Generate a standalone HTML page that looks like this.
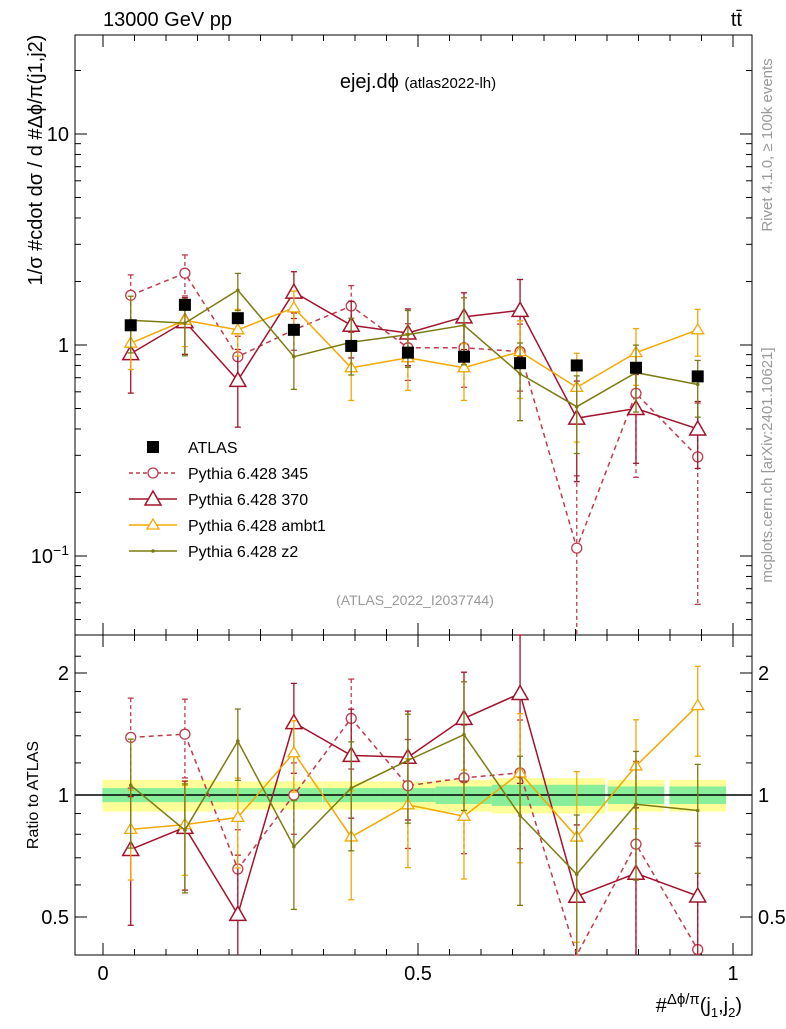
<!DOCTYPE html>
<html><head><meta charset="utf-8"><style>
body{margin:0;background:#fff;width:786px;height:1024px;overflow:hidden}
svg{font-family:"Liberation Sans",sans-serif}
</style></head><body>
<svg id="chart" width="786" height="1024" viewBox="0 0 786 1024"></svg>
<script>
const xcenters=[0.044,0.13,0.214,0.303,0.394,0.484,0.573,0.662,0.752,0.846,0.944];
const atlas=[1.24,1.55,1.34,1.18,0.99,0.92,0.88,0.82,0.80,0.78,0.71];
const s345=[1.72,2.19,0.88,1.18,1.53,0.97,0.97,0.93,0.109,0.59,0.295];
const s370=[0.91,1.29,0.68,1.78,1.24,1.14,1.36,1.46,0.45,0.50,0.40];
const sambt1=[1.02,1.31,1.18,1.50,0.78,0.87,0.78,0.93,0.63,0.92,1.18];
const sz2=[1.31,1.27,1.82,0.88,1.03,1.12,1.24,0.73,0.51,0.74,0.65];
const e345=[0.25,0.22,0.25,0.2,0.25,0.3,0.35,0.35,1.2,0.6,0.8];
const e370=[0.35,0.3,0.4,0.25,0.3,0.3,0.3,0.4,0.5,0.45,0.35];
const eambt1=[0.25,0.25,0.25,0.2,0.3,0.3,0.3,0.4,0.45,0.3,0.25];
const ez2=[0.3,0.3,0.2,0.3,0.3,0.3,0.35,0.4,0.4,0.35,0.3];
const bandInner=[0.04,0.04,0.04,0.04,0.04,0.04,0.05,0.06,0.06,0.05,0.05];
const bandOuter=[0.09,0.09,0.08,0.08,0.08,0.08,0.09,0.1,0.1,0.09,0.09];
const xTicks=[0,0.5,1];

const svg=document.getElementById('chart');
const NS='http://www.w3.org/2000/svg';
function el(t,a,p){const e=document.createElementNS(NS,t);for(const k in a)e.setAttribute(k,a[k]);(p||svg).appendChild(e);return e;}
const X0=75,X1=752,MT=35,MB=635,RB=955;
const xs=v=>103+v*630;
const ym=v=>134-(Math.log10(v)-1)*211;
const yr=v=>795-Math.log2(v)*122;
const clipM=v=>Math.max(MT,Math.min(MB,v));
const clipR=v=>Math.max(MB,Math.min(RB,v));

// bands in ratio
const bw=0.09;
xcenters.forEach((c,i)=>{
  const r=el('rect',{x:xs(c-bw/2),y:yr(1+bandOuter[i]),width:630*bw,height:yr(1-bandOuter[i])-yr(1+bandOuter[i]),fill:'#ffff99'});
  
  
  const r2=el('rect',{x:xs(c-bw/2),y:yr(1+bandInner[i]),width:630*bw,height:yr(1-bandInner[i])-yr(1+bandInner[i]),fill:'#88ee99'});
  
  
});
el('line',{x1:X0,x2:X1,y1:yr(1),y2:yr(1),stroke:'#000','stroke-width':1.5});

// frames
const f1=el('rect',{x:X0,y:MT,width:X1-X0,height:MB-MT,fill:'none',stroke:'#000'});


const f2=el('rect',{x:X0,y:MB,width:X1-X0,height:RB-MB,fill:'none',stroke:'#000'});



// y ticks main
for(let d=-2;d<=1;d++)for(let m=1;m<10;m++){const v=m*Math.pow(10,d);const y=ym(v);if(y<MT||y>MB)continue;const L=m==1?12:6;
  el('line',{x1:X0,x2:X0+L,y1:y,y2:y,stroke:'#000'});el('line',{x1:X1,x2:X1-L,y1:y,y2:y,stroke:'#000'});}
[[10,'10'],[1,'1']].forEach(([v,t])=>{const tx=el('text',{x:X0-6,y:ym(v)+7,'text-anchor':'end','font-size':20});tx.textContent=t;});
{const tx=el('text',{x:X0-6,y:ym(0.1)+7,'text-anchor':'end','font-size':20});tx.innerHTML='10<tspan dy="-8" font-size="14">−1</tspan>';}
// ratio ticks
[0.5,0.6,0.7,0.8,0.9,1,1.2,1.4,1.6,1.8,2,2.2].forEach(v=>{const y=yr(v);if(y<MB||y>RB)return;const L=(v==0.5||v==1||v==2)?12:6;
  el('line',{x1:X0,x2:X0+L,y1:y,y2:y,stroke:'#000'});el('line',{x1:X1,x2:X1-L,y1:y,y2:y,stroke:'#000'});});
[[2,'2'],[1,'1'],[0.5,'0.5']].forEach(([v,t])=>{
  const a=el('text',{x:X0-6,y:yr(v)+7,'text-anchor':'end','font-size':20});a.textContent=t;
  const b=el('text',{x:X1+6,y:yr(v)+7,'font-size':20});b.textContent=t;});
// x ticks
for(let v=0;v<=1.0001;v+=0.05){const x=xs(v);const maj=Math.abs(v*2-Math.round(v*2))<1e-6;const L=maj?12:6;
  el('line',{x1:x,x2:x,y1:MB,y2:MB-L,stroke:'#000'});el('line',{x1:x,x2:x,y1:MT,y2:MT+L,stroke:'#000'});
  el('line',{x1:x,x2:x,y1:RB,y2:RB-L,stroke:'#000'});el('line',{x1:x,x2:x,y1:MB,y2:MB+L,stroke:'#000'});}
xTicks.forEach(v=>{const t=el('text',{x:xs(v),y:980,'text-anchor':'middle','font-size':20});t.textContent=String(v);});

function marker(kind,x,y,col,g){
  if(kind=='circle')el('circle',{cx:x,cy:y,r:5,fill:'#fff',stroke:col,'stroke-width':1.3},g);
  else if(kind=='tri')el('polygon',{points:`${x},${y-8} ${x-8},${y+6} ${x+8},${y+6}`,fill:'#fff',stroke:col,'stroke-width':1.5},g);
  else if(kind=='tris')el('polygon',{points:`${x},${y-6} ${x-6},${y+4} ${x+6},${y+4}`,fill:'#fff',stroke:col,'stroke-width':1.3},g);
  else if(kind=='dot')el('circle',{cx:x,cy:y,r:1.8,fill:col},g);
  else if(kind=='sq')el('rect',{x:x-6,y:y-6,width:12,height:12,fill:'#000'},g);
}
function series(name,vals,errs,col,dash,kind,ratio){
  const g=el('g',{});
  
  
  const Y=ratio?yr:ym, C=ratio?clipR:clipM;
  const vv=vals.map((v,i)=>ratio?v/atlas[i]:v);
  let pts=vv.map((v,i)=>xs(xcenters[i])+','+C(Y(v))).join(' ');
  el('polyline',{points:pts,fill:'none',stroke:col,'stroke-width':1.5,'stroke-dasharray':dash?'5,4':'none'},g);
  vv.forEach((v,i)=>{const x=xs(xcenters[i]);const hi=C(Y(v*(1+errs[i])));const lo=C(Y(Math.max(v*(1-errs[i]),1e-4)));
    el('line',{x1:x,x2:x,y1:hi,y2:lo,stroke:col,'stroke-width':1.3,'stroke-dasharray':dash?'4,3':'none'},g);
    el('line',{x1:x-3,x2:x+3,y1:hi,y2:hi,stroke:col,'stroke-width':1.3},g);
    if(lo<(ratio?RB:MB))el('line',{x1:x-3,x2:x+3,y1:lo,y2:lo,stroke:col,'stroke-width':1.3},g);
    const y=Y(v);if(y>(ratio?MB:MT)&&y<(ratio?RB:MB))marker(kind,x,y,col,g);});
}
const defs=[['pythia-345',s345,e345,'#c03a4e',true,'circle'],['pythia-370',s370,e370,'#a3122c',false,'tri'],['pythia-ambt1',sambt1,eambt1,'#f5a800',false,'tris'],['pythia-z2',sz2,ez2,'#7b7b12',false,'dot']];
[false,true].forEach(r=>defs.forEach(d=>series(d[0],d[1],d[2],d[3],d[4],d[5],r)));
const ga=el('g',{});
atlas.forEach((v,i)=>marker('sq',xs(xcenters[i]),ym(v),'#000',ga));

// legend
const leg=[['ATLAS','sq','#000',false],['Pythia 6.428 345','circle','#c03a4e',true],['Pythia 6.428 370','tri','#a3122c',false],['Pythia 6.428 ambt1','tris','#f5a800',false],['Pythia 6.428 z2','dot','#7b7b12',false]];
leg.forEach((l,i)=>{const y=447+i*26;const g=el('g',{});
  if(l[1]!='sq')el('line',{x1:129,x2:177,y1:y,y2:y,stroke:l[2],'stroke-width':1.5,'stroke-dasharray':l[3]?'4,3':'none'},g);
  marker(l[1],153,y,l[2],g);
  const t=el('text',{x:188,y:y+6,'font-size':16},g);t.textContent=l[0];});

function txt(name,s,a){const t=el('text',a);t.textContent=s;return t;}
txt('energy-label','13000 GeV pp',{x:103,y:26,'font-size':20});
txt('process-label','tt̄',{x:742,y:26,'font-size':20,'text-anchor':'end'});
const tt=el('text',{x:418,y:88,'text-anchor':'middle','font-size':20});tt.innerHTML='ejej.dϕ <tspan font-size="15">(atlas2022-lh)</tspan>';
txt('analysis-id','(ATLAS_2022_I2037744)',{x:415,y:605,'font-size':14,'text-anchor':'middle',fill:'#999'});
txt('y-axis-title','1/σ #cdot dσ / d #Δϕ/π(j1,j2)',{x:0,y:0,'font-size':20,transform:'translate(42,160) rotate(-90)','text-anchor':'middle'});
txt('ratio-y-axis-title','Ratio to ATLAS',{x:0,y:0,'font-size':16,transform:'translate(38,795) rotate(-90)','text-anchor':'middle'});
txt('rivet-label','Rivet 4.1.0, ≥ 100k events',{x:0,y:0,'font-size':15,fill:'#999',transform:'translate(772,145) rotate(-90)','text-anchor':'middle'});
txt('mcplots-label','mcplots.cern.ch [arXiv:2401.10621]',{x:0,y:0,'font-size':15,fill:'#999',transform:'translate(772,465) rotate(-90)','text-anchor':'middle'});
const xt=el('text',{x:742,y:1012,'font-size':20,'text-anchor':'end'});xt.innerHTML='#<tspan font-size="15" dy="-8">Δϕ/π</tspan><tspan dy="8">(j</tspan><tspan font-size="13" dy="5">1</tspan><tspan dy="-5">,j</tspan><tspan font-size="13" dy="5">2</tspan><tspan dy="-5">)</tspan>';

</script>
</body></html>
